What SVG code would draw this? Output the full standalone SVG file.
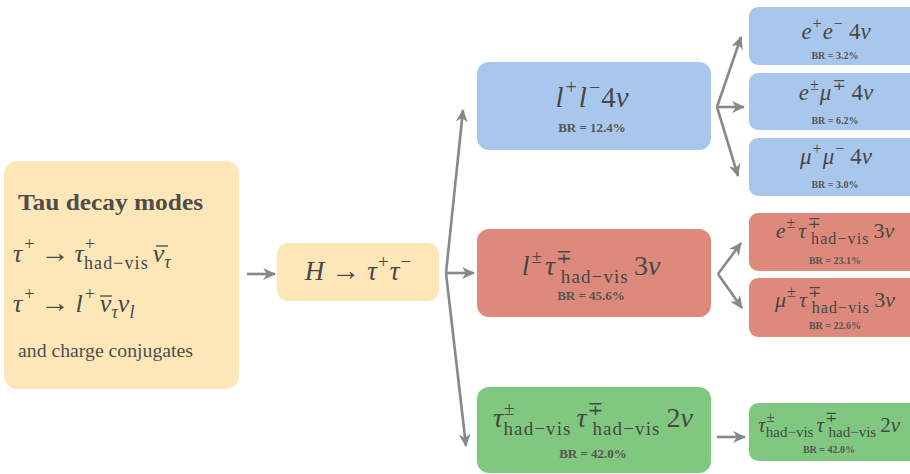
<svg xmlns="http://www.w3.org/2000/svg" width="910" height="474" viewBox="0 0 910 474">
<style>
.m{font-family:"Liberation Serif","DejaVu Serif",serif;fill:#474747}
.i{font-style:italic}
.s{letter-spacing:1.1px}
.bar{stroke:#474747;stroke-width:1.3}
.t{font-family:"Liberation Serif","DejaVu Serif",serif;fill:#4d4d4d}
.br{font-family:"Liberation Serif","DejaVu Serif",serif;font-weight:bold;fill:#555;text-anchor:middle}
.c{text-anchor:middle}
.y{fill:#FDE7B9}
.b{fill:#A9C7EC}
.r{fill:#DD8A7D}
.g{fill:#80C880}
.ar{fill:none;stroke:#888;stroke-width:2.6;marker-end:url(#ah)}
</style>
<defs>
<marker id="ah" markerUnits="userSpaceOnUse" viewBox="0 0 12 12" refX="11" refY="6" markerWidth="13" markerHeight="13" orient="auto">
<path d="M0,0.5 L12,6 L0,11.5 L3.5,6 Z" fill="#888"/>
</marker>
</defs>

<g id="tau-decay-modes">
<rect x="4" y="161" width="235" height="228" rx="13" class="y"/>
<text x="18" y="210" class="t" font-size="23" font-weight="bold" textLength="185" lengthAdjust="spacingAndGlyphs">Tau decay modes</text>
<text x="13" y="262" class="m" font-size="26"><tspan class="i">τ</tspan><tspan dx="2" dy="-12" font-size="18">+</tspan><tspan dy="12" dx="6" font-size="29">→</tspan><tspan dx="5" class="i">τ</tspan><tspan dx="1" dy="-12" font-size="18">+</tspan><tspan dx="-11" dy="19" font-size="18" class="s">had−vis</tspan><tspan dy="-7" dx="4" class="i">ν</tspan><tspan dy="6" font-size="18" class="i">τ</tspan></text>
<line class="bar" x1="156" y1="246" x2="168" y2="246"/>
<text x="13" y="312" class="m" font-size="26"><tspan class="i">τ</tspan><tspan dx="2" dy="-12" font-size="18">+</tspan><tspan dy="12" dx="6" font-size="29">→</tspan><tspan dx="6" class="i">l</tspan><tspan dx="2" dy="-12" font-size="18">+</tspan><tspan dy="12" dx="5" class="i">ν</tspan><tspan dy="6" font-size="18" class="i">τ</tspan><tspan dy="-6" class="i">ν</tspan><tspan dy="6" font-size="18" class="i">l</tspan></text>
<line class="bar" x1="100" y1="296" x2="112" y2="296"/>
<text x="18" y="357" class="t" font-size="18" textLength="175" lengthAdjust="spacingAndGlyphs">and charge conjugates</text>
</g>

<g id="higgs">
<rect x="277" y="243" width="162" height="58" rx="11" class="y"/>
<text x="358" y="280" class="m c" font-size="27"><tspan class="i">H</tspan><tspan dx="7" font-size="29">→</tspan><tspan dx="7" class="i">τ</tspan><tspan dx="1" dy="-12" font-size="19">+</tspan><tspan dy="12" dx="1" class="i">τ</tspan><tspan dx="1" dy="-12" font-size="19">−</tspan></text>
</g>

<g id="ll4nu">
<rect x="477" y="62" width="234" height="88" rx="12" class="b"/>
<text x="592" y="107" class="m c" font-size="29"><tspan class="i">l</tspan><tspan dx="2" dy="-13" font-size="20">+</tspan><tspan dy="13" dx="2" class="i">l</tspan><tspan dx="2" dy="-13" font-size="20">−</tspan><tspan dy="13" dx="1">4</tspan><tspan class="i">ν</tspan></text>
<text x="592" y="132" class="br" font-size="13">BR = 12.4%</text>
</g>

<g id="ltau3nu">
<rect x="477" y="229" width="234" height="88" rx="12" class="r"/>
<text x="591" y="275" class="m c" font-size="28"><tspan class="i">l</tspan><tspan dx="2" dy="-12" font-size="19">±</tspan><tspan dy="12" dx="3" class="i">τ</tspan><tspan dx="1" dy="-12" font-size="19">∓</tspan><tspan dx="-11" dy="20" font-size="19" class="s">had−vis</tspan><tspan dy="-8" dx="5">3</tspan><tspan class="i">ν</tspan></text>
<text x="591" y="300" class="br" font-size="13">BR = 45.6%</text>
</g>

<g id="tautau2nu">
<rect x="477" y="387" width="234" height="86" rx="12" class="g"/>
<text x="593" y="427" class="m c" font-size="28"><tspan class="i">τ</tspan><tspan dx="1" dy="-12" font-size="19">±</tspan><tspan dx="-11" dy="20" font-size="19" class="s">had−vis</tspan><tspan dy="-8" dx="5" class="i">τ</tspan><tspan dx="1" dy="-12" font-size="19">∓</tspan><tspan dx="-11" dy="20" font-size="19" class="s">had−vis</tspan><tspan dy="-8" dx="6">2</tspan><tspan class="i">ν</tspan></text>
<text x="593" y="458" class="br" font-size="13">BR = 42.0%</text>
</g>

<g id="ee4nu">
<rect x="749" y="7" width="175" height="58" rx="9" class="b"/>
<text x="836" y="39" class="m c" font-size="23"><tspan class="i">e</tspan><tspan dx="1" dy="-10" font-size="16">+</tspan><tspan dy="10" dx="1" class="i">e</tspan><tspan dx="1" dy="-10" font-size="16">−</tspan><tspan dy="10" dx="6">4</tspan><tspan class="i">ν</tspan></text>
<text x="835" y="59" class="br" font-size="10">BR = 3.2%</text>
</g>

<g id="emu4nu">
<rect x="749" y="73" width="175" height="57" rx="9" class="b"/>
<text x="836" y="100" class="m c" font-size="23"><tspan class="i">e</tspan><tspan dx="1" dy="-10" font-size="16">±</tspan><tspan dy="10" dx="1" class="i">μ</tspan><tspan dx="1" dy="-10" font-size="16">∓</tspan><tspan dy="10" dx="6">4</tspan><tspan class="i">ν</tspan></text>
<text x="835" y="124" class="br" font-size="10">BR = 6.2%</text>
</g>

<g id="mumu4nu">
<rect x="749" y="138" width="175" height="58" rx="9" class="b"/>
<text x="836" y="164" class="m c" font-size="23"><tspan class="i">μ</tspan><tspan dx="1" dy="-10" font-size="16">+</tspan><tspan dy="10" dx="1" class="i">μ</tspan><tspan dx="1" dy="-10" font-size="16">−</tspan><tspan dy="10" dx="6">4</tspan><tspan class="i">ν</tspan></text>
<text x="835" y="188" class="br" font-size="10">BR = 3.0%</text>
</g>

<g id="etau3nu">
<rect x="749" y="213" width="175" height="58" rx="9" class="r"/>
<text x="835" y="238" class="m c" font-size="22"><tspan class="i">e</tspan><tspan dx="1" dy="-10" font-size="16">±</tspan><tspan dy="10" dx="3" class="i">τ</tspan><tspan dx="1" dy="-10" font-size="16">∓</tspan><tspan dx="-9.5" dy="16" font-size="16" class="s">had−vis</tspan><tspan dy="-6" dx="4">3</tspan><tspan class="i">ν</tspan></text>
<text x="835" y="264" class="br" font-size="10">BR = 23.1%</text>
</g>

<g id="mutau3nu">
<rect x="749" y="278" width="175" height="59" rx="9" class="r"/>
<text x="835" y="307" class="m c" font-size="22"><tspan class="i">μ</tspan><tspan dx="1" dy="-10" font-size="16">±</tspan><tspan dy="10" dx="3" class="i">τ</tspan><tspan dx="1" dy="-10" font-size="16">∓</tspan><tspan dx="-9.5" dy="16" font-size="16" class="s">had−vis</tspan><tspan dy="-6" dx="4">3</tspan><tspan class="i">ν</tspan></text>
<text x="835" y="329" class="br" font-size="10">BR = 22.6%</text>
</g>

<g id="tautau2nu-final">
<rect x="749" y="403" width="175" height="58" rx="9" class="g"/>
<text x="829" y="432" class="m c" font-size="21"><tspan class="i">τ</tspan><tspan dx="1" dy="-10" font-size="15">±</tspan><tspan dx="-9" dy="15" font-size="15">had−vis</tspan><tspan dy="-5" dx="3" class="i">τ</tspan><tspan dx="1" dy="-10" font-size="15">∓</tspan><tspan dx="-9" dy="15" font-size="15">had−vis</tspan><tspan dy="-5" dx="4">2</tspan><tspan class="i">ν</tspan></text>
<text x="829" y="453" class="br" font-size="10">BR = 42.0%</text>
</g>

<g id="connectors">
<path class="ar" d="M247,274 L275,274"/>
<path class="ar" d="M446,273 L463,110"/>
<path class="ar" d="M446,273 L474,273"/>
<path class="ar" d="M446,273 L466,446"/>
<path class="ar" d="M717,107 L741,37"/>
<path class="ar" d="M717,107 L744,107"/>
<path class="ar" d="M717,107 L738,176"/>
<path class="ar" d="M718,274 L741,243"/>
<path class="ar" d="M718,274 L742,308"/>
<path class="ar" d="M717,437 L745,437"/>
</g>
</svg>
